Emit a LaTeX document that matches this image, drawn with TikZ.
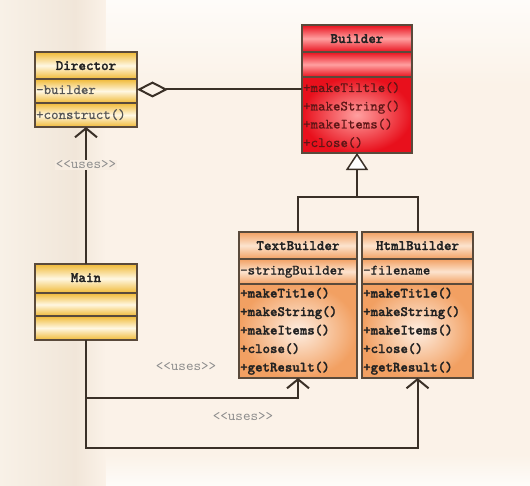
\documentclass[tikz,border=0pt]{standalone}
\usepackage{fontspec}
\newfontfamily\thinmono{lmmono10-regular.otf}
\newfontfamily\midmono{lmmono10-regular.otf}[FakeBold=0.6]
\newfontfamily\regmono{lmmono10-regular.otf}[FakeBold=1]
\newfontfamily\boldmono{lmmonolt10-bold.otf}[FakeBold=1.6]
\usetikzlibrary{arrows.meta}
\definecolor{bg}{HTML}{FBF2E8}
\definecolor{bgL}{HTML}{F8F1E7}
\definecolor{bgD}{HTML}{F1E6D9}
\definecolor{bgT}{HTML}{FEFCF9}
\definecolor{gold}{HTML}{F0B935}
\definecolor{goldlt}{HTML}{FFF7E2}
\definecolor{redA}{HTML}{E8101C}
\definecolor{redlt}{HTML}{FFA0A0}
\definecolor{org}{HTML}{F2A062}
\definecolor{orglt}{HTML}{FCE3CE}
\definecolor{edge}{HTML}{5A4A3B}
\definecolor{wire}{HTML}{3A3027}
\definecolor{lbl}{HTML}{8C8C8C}
\definecolor{txtD}{HTML}{222222}
\definecolor{txtG}{HTML}{555555}
\definecolor{txtR}{HTML}{5E1616}
\tikzset{
  boxline/.style={draw=edge, line width=1.3bp},
  ysec/.style={top color=gold, bottom color=gold, middle color=goldlt},
  rsec/.style={top color=redA, bottom color=redA, middle color=redlt},
  rmeth/.style={inner color=redlt, outer color=redA},
  osec/.style={top color=org, bottom color=org, middle color=orglt},
  ometh/.style={inner color=orglt!60!white, outer color=org},
  cls/.style={draw=none, inner sep=0, outer sep=0},
  ttl/.style={font={\boldmono\fontsize{14.4bp}{18bp}\selectfont}, inner sep=0, anchor=base},
  mem/.style={font={\midmono\fontsize{14.2bp}{18bp}\selectfont}, inner sep=0, anchor=base west},
  memr/.style={font={\regmono\fontsize{14.2bp}{18bp}\selectfont}, inner sep=0, anchor=base west},
  memb/.style={font={\boldmono\fontsize{14.2bp}{18bp}\selectfont}, inner sep=0, anchor=base west},
  lbl/.style={font={\thinmono\fontsize{14.4bp}{18bp}\selectfont}, text=lbl, inner sep=1bp},
  wire/.style={draw=wire, line width=2bp},
  barb/.style={-{Straight Barb[length=9bp, width=22bp]}}
}
\begin{document}
\begin{tikzpicture}[x=1bp, y=-1bp]
\useasboundingbox (0,0) rectangle (530,486);
% background
\fill[bg] (0,0) rectangle (530,486);
\shade[left color=bgL, right color=bgD] (0,0) rectangle (75,486);
\shade[left color=bgD, right color=bg] (75,0) rectangle (106,486);
\shade[top color=bgT, bottom color=bg] (106,0) rectangle (530,85);
\shade[top color=bg, bottom color=bgT] (106,455) rectangle (530,486);

% class frames (named)
\node[cls, minimum width=102bp, minimum height=75bp] (director) at (86,89.5) {};
\node[cls, minimum width=110bp, minimum height=128bp] (builder) at (357,89) {};
\node[cls, minimum width=118bp, minimum height=146bp] (textb) at (298,305) {};
\node[cls, minimum width=111bp, minimum height=146bp] (htmlb) at (417.5,305) {};
\node[cls, minimum width=102bp, minimum height=76bp] (main) at (86,302) {};

% Director
\shade[ysec] (35,52) rectangle (137,79);
\shade[ysec] (35,79) rectangle (137,103);
\shade[ysec] (35,103) rectangle (137,127);
\draw[boxline] (director.north west) rectangle (director.south east);
\draw[boxline] (35,79) -- (137,79);
\draw[boxline] (35,103) -- (137,103);
\node[ttl, text=txtD] (director-t) at (86,70) {Director};
\node[mem, text=txtG] (director-a) at (36,94) {-builder};
\node[mem, text=txtG] (director-m) at (36,119) {+construct()};

% Builder
\shade[rsec] (302,25) rectangle (412,52);
\shade[rsec] (302,52) rectangle (412,77);
\shade[rmeth] (302,77) rectangle (412,153);
\draw[boxline] (builder.north west) rectangle (builder.south east);
\draw[boxline] (302,52) -- (412,52);
\draw[boxline] (302,77) -- (412,77);
\node[ttl, text=txtD] (builder-t) at (357,43) {Builder};
\node[mem, text=txtR] (builder-m1) at (303,92) {+makeTiltle()};
\node[mem, text=txtR] (builder-m2) at (303,110.5) {+makeString()};
\node[mem, text=txtR] (builder-m3) at (303,128.5) {+makeItems()};
\node[mem, text=txtR] (builder-m4) at (303,147) {+close()};

% TextBuilder
\shade[osec] (239,232) rectangle (357,259);
\shade[osec] (239,259) rectangle (357,284);
\shade[ometh] (239,284) rectangle (357,378);
\draw[boxline] (textb.north west) rectangle (textb.south east);
\draw[boxline] (239,259) -- (357,259);
\draw[boxline] (239,284) -- (357,284);
\node[ttl, text=txtD] (textb-t) at (298,250) {TextBuilder};
\node[memr, text=txtD] (textb-a) at (240,274.5) {-stringBuilder};
\node[memb, text=txtD] (textb-m1) at (240,297.5) {+makeTitle()};
\node[memb, text=txtD] (textb-m2) at (240,316) {+makeString()};
\node[memb, text=txtD] (textb-m3) at (240,334.5) {+makeItems()};
\node[memb, text=txtD] (textb-m4) at (240,353) {+close()};
\node[memb, text=txtD] (textb-m5) at (240,371.5) {+getResult()};

% HtmlBuilder
\shade[osec] (362,232) rectangle (473,259);
\shade[osec] (362,259) rectangle (473,284);
\shade[ometh] (362,284) rectangle (473,378);
\draw[boxline] (htmlb.north west) rectangle (htmlb.south east);
\draw[boxline] (362,259) -- (473,259);
\draw[boxline] (362,284) -- (473,284);
\node[ttl, text=txtD] (htmlb-t) at (417.5,250) {HtmlBuilder};
\node[memr, text=txtD] (htmlb-a) at (363,274.5) {-filename};
\node[memb, text=txtD] (htmlb-m1) at (363,297.5) {+makeTitle()};
\node[memb, text=txtD] (htmlb-m2) at (363,316) {+makeString()};
\node[memb, text=txtD] (htmlb-m3) at (363,334.5) {+makeItems()};
\node[memb, text=txtD] (htmlb-m4) at (363,353) {+close()};
\node[memb, text=txtD] (htmlb-m5) at (363,371.5) {+getResult()};

% Main
\shade[ysec] (35,264) rectangle (137,293);
\shade[ysec] (35,293) rectangle (137,316);
\shade[ysec] (35,316) rectangle (137,340);
\draw[boxline] (main.north west) rectangle (main.south east);
\draw[boxline] (35,293) -- (137,293);
\draw[boxline] (35,316) -- (137,316);
\node[ttl, text=txtD] (main-t) at (86,282) {Main};

% connectors
\draw[wire, {Diamond[open, length=31bp, width=16bp]}-] (director.east) -- (builder.west |- director.east);

\coordinate (jt) at (357,197);
\draw[wire] (textb.north) |- (jt) -| (htmlb.north);
\draw[wire, -{Triangle[open, fill=white, length=17bp, width=22bp, line width=1.5bp]}] (jt) -- (builder.south);

\draw[wire, barb] (main.north) -- node[pos=0.723, lbl, fill=bgD!40!bg] (uses1) {<<uses>>} (director.south);

\coordinate (c1) at (86,398);
\coordinate (c2) at (86,448);
\draw[wire, barb] (main.south) -- (c1) -| (textb.south);
\draw[wire, barb] (c1) -- (c2) -| (htmlb.south);
\node[lbl] (uses2) at (186,367) {<<uses>>};
\node[lbl] (uses3) at (243,417) {<<uses>>};
\end{tikzpicture}
\end{document}
